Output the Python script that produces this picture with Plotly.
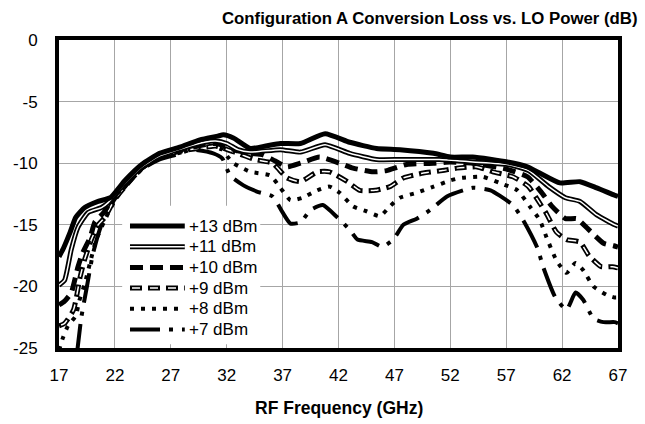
import plotly.graph_objects as go

# ---------------- data ----------------
f13 = [17, 17.4, 18, 18.5, 19.3, 20.5, 21.6, 22.9, 24.4, 26, 27.8, 29.6, 31.2, 31.7, 32.6, 34.1, 35.5,
       36.8, 38.6, 40.8, 43.0, 45.4, 47.5, 50.5, 52, 54, 57.1, 58.9, 60, 61.8, 63.6, 65.1, 66.7, 67]
v13 = [-17.6, -16.9, -15.6, -14.4, -13.6, -13.1, -12.8, -11.4, -10.1, -9.2, -8.7, -8.1, -7.8, -7.7, -7.95,
       -8.8, -8.6, -8.4, -8.4, -7.6, -8.3, -8.8, -8.9, -9.2, -9.5, -9.5, -9.9, -10.3, -10.8, -11.6, -11.5,
       -12.0, -12.6, -12.7]

f11 = [17, 17.5, 18.1, 18.7, 19.6, 20.8, 21.4, 22.9, 24.4, 26, 28, 30, 31, 32, 33, 34.1, 36.8, 38.6,
       40.8, 43, 45.4, 47.5, 51, 54, 57.1, 59, 60.8, 62.3, 63.6, 65.1, 66.7, 67]
v11 = [-19.9, -19.5, -17.0, -15.2, -14.0, -13.6, -13.2, -11.6, -10.3, -9.4, -8.8, -8.3, -8.2, -8.4, -8.9,
       -9.1, -8.9, -9.1, -8.5, -9.2, -9.7, -9.7, -9.7, -9.9, -10.1, -10.6, -11.9, -12.8, -13.1, -14.2,
       -15.0, -15.1]

f10 = [17, 17.5, 18.1, 18.7, 19.1, 19.8, 20.2, 21, 22, 23, 24.4, 26, 28, 30, 31.1, 33, 34.1, 35.2, 36.3,
       37.4, 38.6, 40.3, 42.1, 43.3, 45.1, 46.3, 48.1, 50.5, 52, 54, 57.1, 58.9, 60.1, 61.1, 62.3, 63.3,
       64.5, 65.7, 66.6, 67]
v10 = [-21.5, -21.2, -20.5, -18.4, -17.3, -16.0, -14.8, -14.0, -12.6, -11.7, -10.4, -9.5, -8.9, -8.5,
       -8.4, -9.0, -9.2, -9.3, -9.8, -10.3, -10.0, -9.5, -10.0, -10.4, -10.7, -10.6, -10.1, -10.0, -9.9,
       -10.0, -10.5, -11.1, -12.3, -13.5, -14.5, -14.5, -15.5, -16.5, -16.7, -16.8]

f9 = [17, 17.5, 18.3, 18.9, 19.3, 19.9, 20.5, 21.1, 22, 23, 24.4, 26, 28, 30.2, 31, 33, 34.5, 36.1,
      37.4, 38.6, 40.1, 41.2, 42.8, 43.9, 45.3, 46.6, 47.8, 49.6, 51.3, 52.6, 54.4, 55.8, 57.6, 59.0,
      59.9, 60.6, 61.5, 62.4, 63.6, 64.4, 65.5, 66.5, 67]
v9 = [-23.2, -23.0, -21.9, -19.2, -17.8, -16.2, -15.0, -14.4, -12.9, -11.8, -10.4, -9.5, -9.0, -8.7,
      -8.6, -9.2, -9.7, -10.0, -11.2, -11.5, -10.7, -10.7, -11.5, -12.2, -12.2, -11.9, -11.2, -10.8,
      -10.6, -10.4, -10.3, -10.7, -11.1, -11.9, -13.1, -14.1, -15.6, -16.2, -16.4, -17.5, -18.4, -18.4,
      -18.5]

f8 = [17, 17.3, 17.8, 18.5, 18.8, 19.3, 19.8, 20.3, 21, 22, 23, 24.4, 26, 28, 29.9, 31.6, 32.1, 32.6,
      33.4, 34.1, 35.9, 36.8, 37.7, 38.8, 40.1, 41.2, 42.1, 43.3, 44.5, 45.7, 46.6, 47.5, 49, 50.5, 52,
      52.9, 54.9, 56.4, 58, 59.1, 60, 60.6, 61.5, 62.4, 63.2, 63.9, 64.8, 66, 66.7, 67]
v8 = [-25.2, -24.3, -23.2, -22.4, -21.2, -19.8, -18.0, -16.3, -14.8, -13.0, -11.8, -10.5, -9.6, -9.1,
      -8.5, -8.9, -9.5, -10.0, -10.4, -10.7, -11.0, -12.0, -13.0, -12.8, -12.2, -11.9, -12.4, -13.5,
      -13.9, -14.3, -13.5, -12.8, -12.4, -11.9, -11.4, -11.2, -11.1, -11.6, -12.2, -13.5, -14.6, -16.0,
      -17.9, -18.9, -18.1, -18.7, -20.0, -20.7, -20.9, -20.9]

f7 = [18.6, 19, 19.5, 20, 20.5, 21, 22, 23, 24.4, 26, 27.5, 28.9, 30.8, 31.6, 32.3, 33.5, 34.7, 36.1,
      37, 37.7, 38.6, 39.5, 40.6, 41.9, 43, 43.7, 45, 45.9, 46.9, 47.8, 49, 50.2, 51.7, 54, 55.6, 57.6,
      58.5, 59.8, 60.3, 61.4, 62.4, 63.2, 63.9, 64.8, 65.7, 66.7, 67]
v7 = [-25.5, -22.5, -20.0, -17.5, -15.8, -14.5, -12.9, -11.8, -10.5, -9.7, -9.3, -8.9, -9.2, -9.6,
      -11.0, -11.8, -12.3, -12.7, -14.0, -14.9, -14.8, -13.8, -13.4, -14.4, -15.4, -16.2, -16.4, -16.8,
      -16.2, -15.0, -14.5, -13.8, -12.7, -12.0, -12.2, -13.4, -14.6, -16.9, -18.4, -20.9, -21.9, -20.5,
      -21.1, -22.6, -22.9, -22.9, -23.0]

names = ["+13 dBm", "+11 dBm", "+10 dBm", "+9 dBm", "+8 dBm", "+7 dBm"]
freqs = [f13, f11, f10, f9, f8, f7]
vals = [v13, v11, v10, v9, v8, v7]

x_ticks = [17, 22, 27, 32, 37, 42, 47, 52, 57, 62, 67]
y_ticks = [0, -5, -10, -15, -20, -25]

# ---------------- styles ----------------
# each style: list of (color, width, dash) layers drawn in order
styles = [
    [("black", 5, "solid")],
    [("black", 5, "solid"), ("white", 1.5, "solid")],
    [("black", 5, "13px,7px")],
    [("black", 5, "12px,6px"), ("white", 1.5, "0px,2px,8px,8px")],
    [("black", 4, "4px,7px")],
    [("black", 4, "30px,9px,4px,9px")],
]

FONT = "Liberation Sans, Arial, Helvetica, sans-serif"

fig = go.Figure()
for i in reversed(range(len(names))):
    for (c, w, d) in styles[i]:
        fig.add_trace(go.Scatter(
            x=freqs[i], y=vals[i], mode="lines", name=names[i], showlegend=False,
            line=dict(color=c, width=w, dash=d, shape="spline", smoothing=0.5),
            hoverinfo="skip"))

# ---------------- custom legend ----------------
shapes = [dict(type="rect", xref="paper", yref="paper", x0=0.113, x1=0.36, y0=0.012, y1=0.462,
               fillcolor="white", line=dict(width=0), layer="above")]
annotations = []
row0 = 0.396
drow = 0.0672
for i, nm in enumerate(names):
    yy = row0 - i * drow
    for (c, w, d) in styles[i]:
        shapes.append(dict(type="line", xref="paper", yref="paper", x0=0.127, x1=0.225, y0=yy, y1=yy,
                           line=dict(color=c, width=w, dash=d), layer="above"))
    annotations.append(dict(text=nm, xref="paper", yref="paper", x=0.229, y=yy, xanchor="left",
                            yanchor="middle", showarrow=False,
                            font=dict(family=FONT, size=17, color="black")))

annotations.append(dict(text="<b>Configuration A Conversion Loss vs. LO Power (dB)</b>",
                        xref="paper", yref="paper", x=1.039, y=1.071, xanchor="right",
                        yanchor="middle", showarrow=False,
                        font=dict(family=FONT, size=16.8, color="black")))
annotations.append(dict(text="<b>RF Frequency (GHz)</b>", xref="paper", yref="paper", x=0.5,
                        y=-0.195, xanchor="center", yanchor="middle", showarrow=False,
                        font=dict(family=FONT, size=17.5, color="black")))

fig.update_layout(
    width=645, height=424,
    margin=dict(l=59, r=27, t=40, b=76),
    paper_bgcolor="white", plot_bgcolor="white",
    shapes=shapes, annotations=annotations,
    font=dict(family=FONT, size=17, color="black"),
)
fig.update_xaxes(range=[17, 67], tickvals=x_ticks, ticktext=[str(t) for t in x_ticks],
                 showgrid=True, gridcolor="#a6a6a6", gridwidth=1, zeroline=False,
                 showline=True, linecolor="black", linewidth=4, mirror=True,
                 ticks="", ticklabelstandoff=9,
                 tickfont=dict(family=FONT, size=17, color="black"))
fig.update_yaxes(range=[-25, 0], tickvals=y_ticks, ticktext=[str(t) for t in y_ticks],
                 showgrid=True, gridcolor="#a6a6a6", gridwidth=1, zeroline=False,
                 showline=True, linecolor="black", linewidth=4, mirror=True,
                 ticks="", ticklabelstandoff=14,
                 tickfont=dict(family=FONT, size=17, color="black"))

fig.write_html("out.html")
